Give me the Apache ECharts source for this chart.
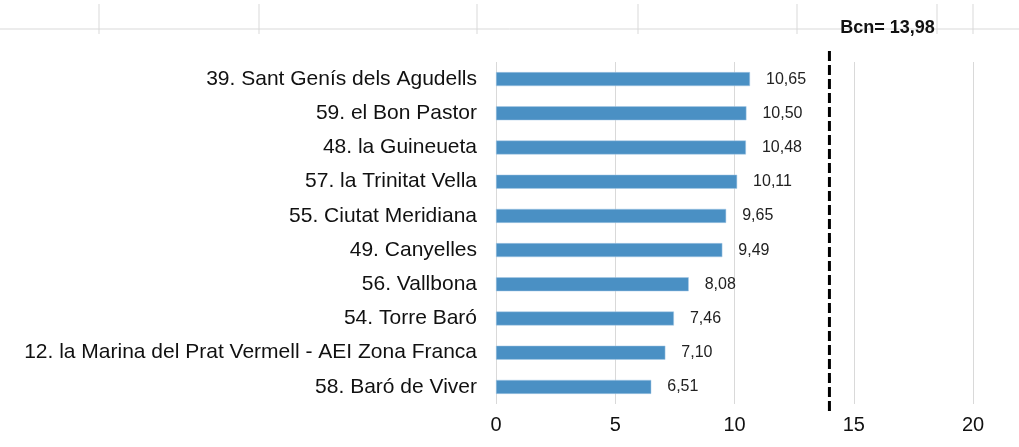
<!DOCTYPE html>
<html>
<head>
<meta charset="utf-8">
<script src="https://cdn.jsdelivr.net/npm/echarts@6/dist/echarts.min.js"></script>
<style>
  html, body { margin: 0; padding: 0; background: #fff; }
  #container { width: 1019px; height: 447px; }
</style>
</head>
<body>
<div id="container"></div>
<script>
// data
var barris = [
    '39. Sant Genís dels Agudells',
    '59. el Bon Pastor',
    '48. la Guineueta',
    '57. la Trinitat Vella',
    '55. Ciutat Meridiana',
    '49. Canyelles',
    '56. Vallbona',
    '54. Torre Baró',
    '12. la Marina del Prat Vermell - AEI Zona Franca',
    '58. Baró de Viver'
];
var valors = [10.65, 10.50, 10.48, 10.11, 9.65, 9.49, 8.08, 7.46, 7.10, 6.51];
var bcnValor = 13.98;
var xTicks = [0, 5, 10, 15, 20];

function coma(v) {
    return v.toFixed(2).replace('.', ',');
}

var dom = document.getElementById('container');
var myChart = echarts.init(dom, null, { renderer: 'canvas' });
var font = '"Liberation Sans", Arial, sans-serif';
var gris = { stroke: '#d9d9d9', lineWidth: 1 };

var option = {
    animation: false,
    textStyle: { fontFamily: font },
    // restes del grafic de dalt (retallat)
    graphic: [
        { type: 'line', shape: { x1: 0, y1: 29, x2: 1019, y2: 29 }, style: gris },
        { type: 'line', shape: { x1: 99, y1: 4, x2: 99, y2: 34 }, style: gris },
        { type: 'line', shape: { x1: 259, y1: 4, x2: 259, y2: 34 }, style: gris },
        { type: 'line', shape: { x1: 477, y1: 4, x2: 477, y2: 34 }, style: gris },
        { type: 'line', shape: { x1: 638, y1: 4, x2: 638, y2: 34 }, style: gris },
        { type: 'line', shape: { x1: 797, y1: 4, x2: 797, y2: 34 }, style: gris },
        { type: 'line', shape: { x1: 937, y1: 4, x2: 937, y2: 34 }, style: gris },
        { type: 'line', shape: { x1: 973, y1: 4, x2: 973, y2: 34 }, style: gris }
    ],
    grid: [
        { left: 496, right: 46, top: 62, bottom: 43 },
        { left: 496, right: 46, top: 47, bottom: 36 }
    ],
    xAxis: [
        {
            type: 'value',
            gridIndex: 0,
            min: xTicks[0],
            max: xTicks[xTicks.length - 1],
            interval: 5,
            axisLine: { show: false },
            axisTick: { show: false },
            axisLabel: { fontSize: 20, color: '#111', margin: 11, fontFamily: font },
            splitLine: { lineStyle: { color: '#d9d9d9', width: 1 } }
        },
        {
            type: 'value',
            gridIndex: 1,
            min: xTicks[0],
            max: xTicks[xTicks.length - 1],
            show: false
        }
    ],
    yAxis: [
        {
            type: 'category',
            gridIndex: 0,
            data: barris,
            inverse: true,
            axisLine: { show: false },
            axisTick: { show: false },
            axisLabel: { fontSize: 21, color: '#111', margin: 19, fontFamily: font }
        },
        {
            type: 'value',
            gridIndex: 1,
            min: 0,
            max: 1,
            show: false
        }
    ],
    series: [
        {
            type: 'bar',
            xAxisIndex: 0,
            yAxisIndex: 0,
            data: valors,
            barWidth: 14,
            itemStyle: { color: '#4a90c4', borderColor: '#a9cbe6', borderWidth: 0.5 },
            label: {
                show: true,
                position: 'right',
                distance: 16,
                fontSize: 16,
                color: '#222',
                fontFamily: font,
                formatter: function (p) { return coma(p.value); }
            }
        },
        {
            // linia de referencia Barcelona
            type: 'line',
            xAxisIndex: 1,
            yAxisIndex: 1,
            symbol: 'circle',
            symbolSize: 0,
            lineStyle: { color: '#000', width: 3, type: [10, 4] },
            data: [
                [bcnValor, 0],
                {
                    value: [bcnValor, 1],
                    label: {
                        show: true,
                        position: 'top',
                        distance: 10,
                        offset: [58, 0],
                        fontSize: 18,
                        fontWeight: 'bold',
                        color: '#111',
                        fontFamily: font,
                        formatter: 'Bcn= ' + coma(bcnValor)
                    }
                }
            ]
        }
    ]
};

myChart.setOption(option);
window.addEventListener('resize', myChart.resize);
</script>
</body>
</html>
